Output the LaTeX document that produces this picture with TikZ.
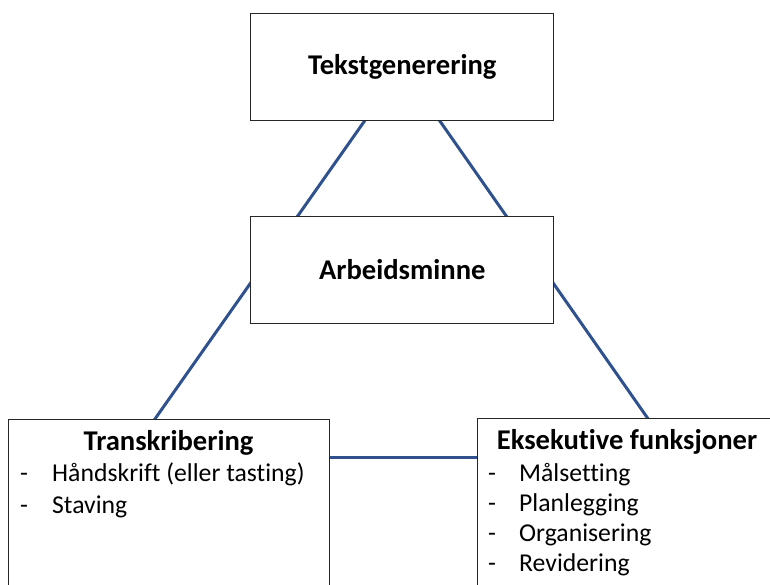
\documentclass[tikz,border=0pt]{standalone}
\usepackage{fontspec}
\setmainfont[Ligatures=CommonOff]{Carlito}
\usetikzlibrary{calc,backgrounds}
\definecolor{lineblue}{HTML}{2F528F}
\definecolor{boxline}{HTML}{262626}
\tikzset{
  box/.style={draw=boxline, line width=1pt, fill=white, rectangle, inner sep=0pt},
  conn/.style={draw=lineblue, line width=3pt},
  title/.style={font=\fontsize{28.6}{31}\selectfont\bfseries, inner sep=0pt, anchor=base},
  item/.style={font=\fontsize{25.7}{31}\selectfont, inner sep=0pt, anchor=base west},
}
\begin{document}
\begin{tikzpicture}[x=1pt,y=-1pt]
\useasboundingbox (0,0) rectangle (770,584);
\clip (0,0) rectangle (770,584);
% boxes
\node[box, minimum width=303.3pt, minimum height=107pt] (tg) at (402.3,67.3) {};
\node[box, minimum width=303.3pt, minimum height=106.5pt] (am) at (402.3,270) {};
\node[box, minimum width=320.4pt, minimum height=200pt, anchor=north west] (tr) at (8.3,419) {};
\node[box, minimum width=300pt, minimum height=200pt, anchor=north west] (ef) at (476.7,418.3) {};
\coordinate (tl) at (128,457.3);
\coordinate (trr) at (675,457.3);
% connectors (behind boxes)
\begin{scope}[on background layer]
\draw[conn] (tg.center) -- (tl);
\draw[conn] (tg.center) -- (trr);
\draw[conn] (tl) -- (trr);
\end{scope}
% titles
\node[title, anchor=center] (tgt) at (tg.center) {Tekstgenerering};
\node[title, anchor=center] (amt) at (am.center) {Arbeidsminne};
\node[title] (trt) at (168.5,450) {Transkribering};
\node[title] (eft) at (627,449.3) {Eksekutive funksjoner};
% lists
\node[item] (trd1) at (20,481.7) {-};
\node[item] (tri1) at (52,481.7) {Håndskrift (eller tasting)};
\node[item] (trd2) at (20,513.3) {-};
\node[item] (tri2) at (52,513.3) {Staving};
\node[item] (efd1) at (488,481) {-};
\node[item] (efi1) at (519,481) {Målsetting};
\node[item] (efd2) at (488,511.7) {-};
\node[item] (efi2) at (519,511.7) {Planlegging};
\node[item] (efd3) at (488,541.7) {-};
\node[item] (efi3) at (519,541.7) {Organisering};
\node[item] (efd4) at (488,571.7) {-};
\node[item] (efi4) at (519,571.7) {Revidering};
\end{tikzpicture}
\end{document}
